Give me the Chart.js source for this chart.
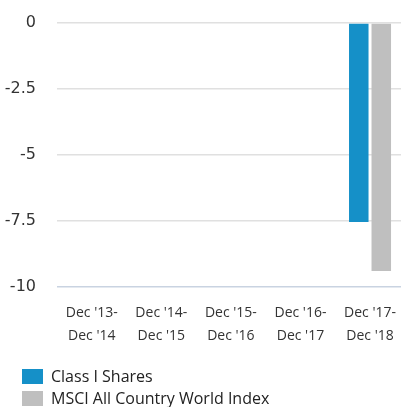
<!DOCTYPE html>
<html>
<head>
<meta charset="utf-8">
<script src="https://cdn.jsdelivr.net/npm/chart.js@4.4.1/dist/chart.umd.min.js"></script>
<style>
  html, body { margin: 0; padding: 0; background: #fff; }
  body { width: 401px; height: 407px; overflow: hidden; position: relative; }
  #chart { position: absolute; left: 0; top: 0; }
  #legend { position: absolute; left: 22px; top: 365px; font-family: "Open Sans", sans-serif; font-size: 16px; color: #222; }
  #legend .item { display: flex; align-items: center; height: 22px; }
  #legend .box { width: 21px; height: 15px; margin-right: 8px; }
</style>
</head>
<body>
<canvas id="chart" width="411" height="366"></canvas>
<div id="legend"></div>
<script>
var categories = [["Dec '13-", "Dec '14"], ["Dec '14-", "Dec '15"], ["Dec '15-", "Dec '16"], ["Dec '16-", "Dec '17"], ["Dec '17-", "Dec '18"]];
var classI = [null, null, null, null, -7.53];
var msci = [null, null, null, null, -9.39];
var yTicks = [0, -2.5, -5, -7.5, -10];

var seriesNames = ["Class I Shares", "MSCI All Country World Index"];
var seriesColors = ["#1590c8", "#bfbfbf"];

var ctx = document.getElementById("chart");
var chart = new Chart(ctx, {
    type: "bar",
    data: {
        labels: categories,
        datasets: [
            { label: seriesNames[0], data: classI, backgroundColor: seriesColors[0], categoryPercentage: 0.647, barPercentage: 0.867 },
            { label: seriesNames[1], data: msci, backgroundColor: seriesColors[1], categoryPercentage: 0.647, barPercentage: 0.867 }
        ]
    },
    options: {
        responsive: false,
        animation: false,
        layout: { padding: { top: 23, bottom: 4, left: 0, right: 0 } },
        plugins: { legend: { display: false }, tooltip: { enabled: false } },
        scales: {
            x: {
                grid: { display: false, drawTicks: false },
                border: { display: false },
                ticks: {
                    padding: 15,
                    color: "#333",
                    maxRotation: 0,
                    font: { family: "Open Sans", size: 14, lineHeight: 1.6 }
                }
            },
            y: {
                min: -10,
                max: 0,
                afterFit: function(scale){ scale.width = 57; },
                afterBuildTicks: function(scale){
                    scale.ticks = yTicks.map(function(v){ return { value: v }; });
                },
                grid: {
                    drawTicks: false,
                    lineWidth: 1.5,
                    color: function(c){ return c.tick && c.tick.value === -10 ? "#c9d3e1" : "#e0e0e0"; }
                },
                border: { display: false },
                ticks: {
                    padding: 21,
                    color: "#333",
                    // small lineHeight keeps the top label from pushing the plot down
                    font: { style: "condensed", family: "'DejaVu Sans', Roboto", size: 16, lineHeight: 0.2 },
                    callback: function(v){ return String(v); }
                }
            }
        }
    }
});

var legend = document.getElementById("legend");
chart.data.datasets.forEach(function(ds){
    var item = document.createElement("div");
    item.setAttribute("class", "item");
    var box = document.createElement("span");
    box.setAttribute("class", "box");
    box.style.background = ds.backgroundColor;
    item.appendChild(box);
    var text = document.createElement("span");
    text.textContent = ds.label;
    item.appendChild(text);
    legend.appendChild(item);
});
</script>
</body>
</html>
